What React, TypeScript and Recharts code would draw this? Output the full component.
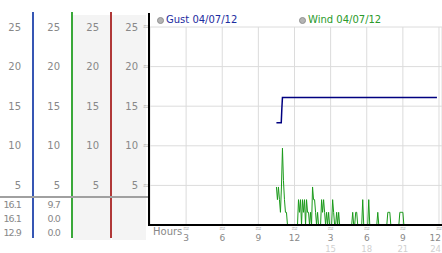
import React from 'react';
import { ComposedChart, Line, XAxis, YAxis, CartesianGrid } from 'recharts';

// tick values shared by the four left columns and the plot
const yTicks = [5, 10, 15, 20, 25];
const hourTicks = [0, 3, 6, 9, 12, 15, 18, 21, 24];

const seriesNames = ['Gust 04/07/12', 'Wind 04/07/12'];
const seriesColors = ['#000080', '#1a9a1a'];

// Gust readings (hour of day, mph)
const gustHours = [10.5, 10.9, 10.95, 11.0, 23.83];
const gustValues = [12.9, 12.9, 14.7, 16.1, 16.1];

// Wind readings, one every 5 minutes starting 10:30
const windStart = 10.5;
const windValues = [
  4.8, 3.2, 4.8, 3.2, 1.6, 4.8, 9.7, 5.6, 3.2, 1.6, 1.6, 0, // 10:30
  0, 0, 0, 0, 0, 0, 0, 0, 0, 0, 3.2, 1.6, // 11:30
  3.2, 0, 3.2, 1.6, 3.2, 0, 3.2, 1.6, 1.6, 0, 1.6, 0, // 12:30
  4.8, 3.2, 3.2, 1.6, 0, 1.6, 0, 0, 0, 3.2, 1.6, 3.2, // 13:30
  1.6, 0, 1.6, 0, 1.6, 0, 0, 0, 3.2, 1.6, 0, 0, // 14:30
  1.6, 0, 1.6, 0, 0, 0, 0, 0, 0, 0, 0, 0, // 15:30
  0, 0, 0, 0, 1.6, 0, 0, 1.6, 1.6, 0, 0, 0, // 16:30
  0, 0, 3.2, 0, 0, 0, 0, 0, 3.2, 0, 0, 0, // 17:30
  0, 0, 0, 0, 0, 1.6, 0, 0, 0, 0, 0, 0, // 18:30
  0, 0, 0, 1.6, 1.6, 1.6, 0, 0, 0, 0, 0, 0, // 19:30
  0, 0, 0, 1.6, 1.6, 1.6, 1.6, 0, 0, 0, 0, 0, // 20:30
  0, 0, 0, 0, 0, 0, 0, 0, 0, 0, 0, 0, // 21:30
  0, 0, 0, 0, 0, 0, 0, 0, 0, 0, 0, 0, // 22:30
  0, 0, 0, 0, 0, 0, 0, // 23:30
];

// max / last / min under the first two columns
const gustStats = ['16.1', '16.1', '12.9'];
const windStats = ['9.7', '0.0', '0.0'];

const gustData = gustHours.map((h, i) => ({ h, v: gustValues[i] }));
const windData = windValues.map((v, i) => ({ h: windStart + i / 12, v }));

const FONT = 'DejaVu Sans';

const YTick = (props: any) => {
  const { x, y, payload, mark } = props;
  return (
    <g>
      <text x={x} y={y} dy="0.36em" textAnchor="end" fontSize={10} fontFamily={FONT} fill="#888">
        {payload.value}
      </text>
      {mark && (
        <text x={x + 8} y={y} dy="0.3em" textAnchor="middle" fontSize={8} fontFamily={FONT} fill="#b0b0b0">
          ≈
        </text>
      )}
    </g>
  );
};

const HourTick = (props: any) => {
  const { x, y, payload } = props;
  const h = payload.value as number;
  if (h === 0) {
    return (
      <text x={x + 3} y={y + 10} fontSize={10} fontFamily={FONT} fill="#888">
        Hours
      </text>
    );
  }
  const last = h === 24;
  const anchor = last ? 'end' : 'middle';
  const lx = last ? x + 2 : x;
  return (
    <g>
      <text x={x} y={y + 6} textAnchor="middle" fontSize={8} fontFamily={FONT} fill="#b0b0b0">
        ≈
      </text>
      <text x={lx} y={y + 16} textAnchor={anchor} fontSize={9} fontFamily={FONT} fill="#888">
        {h % 12 === 0 ? 12 : h % 12}
      </text>
      {h > 12 && (
        <text x={lx} y={y + 26.5} textAnchor={anchor} fontSize={8.5} fontFamily={FONT} fill="#d0d0d0">
          {h}
        </text>
      )}
    </g>
  );
};

// the four left columns, nearest the plot first
const columnAxes = [
  { id: 'a', width: 39, mark: true },
  { id: 'b', width: 39, mark: false },
  { id: 'c', width: 39, mark: false },
  { id: 'd', width: 33, mark: false },
];

const abs = (s: React.CSSProperties): React.CSSProperties => ({ position: 'absolute', ...s });

export default function App() {
  return (
    <div style={{ position: 'absolute', left: 0, top: 0, width: 442, height: 253, fontFamily: FONT, overflow: 'hidden' }}>
      {/* shaded columns */}
      <div style={abs({ left: 73, top: 15, width: 38, height: 225, background: '#f4f4f4' })} />
      <div style={abs({ left: 112, top: 15, width: 34, height: 225, background: '#f4f4f4' })} />

      <div style={abs({ left: 0, top: 0 })}>
        <ComposedChart width={442} height={253} margin={{ top: 27, right: 0, bottom: 0, left: 0 }}>
          <CartesianGrid yAxisId="a" stroke="#dcdcdc" />
          <XAxis
            dataKey="h"
            type="number"
            domain={[0, 24.25]}
            ticks={hourTicks}
            interval={0}
            allowDataOverflow
            height={28}
            tickSize={0}
            tickMargin={0}
            tickLine={false}
            axisLine={{ stroke: '#000', strokeWidth: 2 }}
            tick={<HourTick />}
          />
          {columnAxes.map((ax) => (
            <YAxis
              key={ax.id}
              yAxisId={ax.id}
              type="number"
              domain={[0, 25]}
              ticks={yTicks}
              interval={0}
              width={ax.width}
              tickSize={0}
              tickMargin={12}
              tickLine={false}
              axisLine={false}
              tick={<YTick mark={ax.mark} />}
            />
          ))}
          {/* invisible copies so every column axis has a scale */}
          {columnAxes.slice(1).map((ax) => (
            <Line
              key={'hidden-' + ax.id}
              yAxisId={ax.id}
              data={gustData}
              dataKey="v"
              stroke="none"
              strokeOpacity={0}
              dot={false}
              activeDot={false}
              legendType="none"
              isAnimationActive={false}
            />
          ))}
          <Line
            yAxisId="a"
            data={windData}
            dataKey="v"
            name={seriesNames[1]}
            type="linear"
            stroke={seriesColors[1]}
            strokeWidth={1}
            dot={false}
            activeDot={false}
            isAnimationActive={false}
          />
          <Line
            yAxisId="a"
            data={gustData}
            dataKey="v"
            name={seriesNames[0]}
            type="linear"
            stroke={seriesColors[0]}
            strokeWidth={1.5}
            dot={false}
            activeDot={false}
            isAnimationActive={false}
          />
        </ComposedChart>
      </div>

      {/* column dividers */}
      <div style={abs({ left: 32, top: 12, width: 2, height: 226, background: '#3656b4' })} />
      <div style={abs({ left: 71, top: 12, width: 2, height: 226, background: '#3aa83a' })} />
      <div style={abs({ left: 110, top: 12, width: 2, height: 226, background: '#b03838' })} />
      <div style={abs({ left: 148, top: 13, width: 2, height: 213, background: '#000' })} />
      <div style={abs({ left: 0, top: 196, width: 148, height: 2, background: '#a0a0a0' })} />

      {/* stats */}
      {gustStats.map((s, i) => (
        <div key={'g' + i} style={abs({ left: 0, width: 21, top: 199 + i * 14, fontSize: 9.5, lineHeight: '12px', letterSpacing: -0.9, textAlign: 'right', color: '#888' })}>
          {s}
        </div>
      ))}
      {windStats.map((s, i) => (
        <div key={'w' + i} style={abs({ left: 33, width: 27, top: 199 + i * 14, fontSize: 9.5, lineHeight: '12px', letterSpacing: -0.9, textAlign: 'right', color: '#888' })}>
          {s}
        </div>
      ))}

      {/* legend */}
      <div style={abs({ left: 157, top: 14, display: 'flex', fontSize: 10, lineHeight: '12px' })}>
        {seriesNames.map((name, i) => (
          <div key={name} style={{ width: 142, display: 'flex', alignItems: 'center' }}>
            <span style={{ width: 5, height: 5, borderRadius: 4, background: '#b4b4b4', border: '1px solid #909090', marginRight: 2 }} />
            <span style={{ color: i === 0 ? '#1c2ca0' : '#2a9a2a' }}>{name}</span>
          </div>
        ))}
      </div>
    </div>
  );
}
